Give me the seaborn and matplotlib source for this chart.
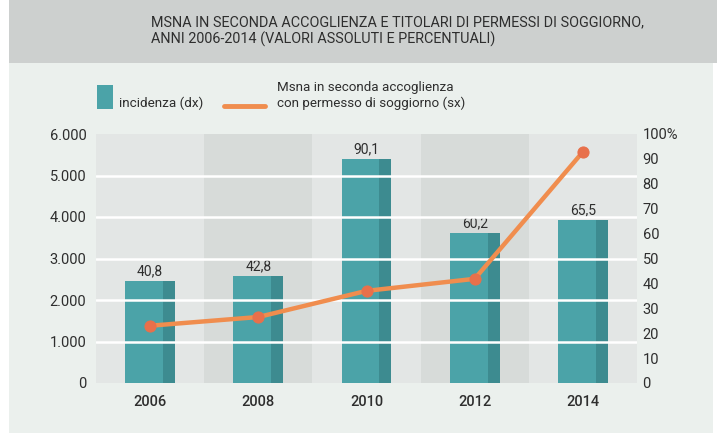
import numpy as np
import matplotlib
matplotlib.use('Agg')
import matplotlib.pyplot as plt
from matplotlib.patches import Rectangle
from matplotlib.lines import Line2D
from matplotlib.ticker import FuncFormatter
import seaborn as sns

# Data
years = ['2006', '2008', '2010', '2012', '2014']
incidenza = [40.8, 42.8, 90.1, 60.2, 65.5]          # bars, right axis (%)
msna_permesso = [1380, 1590, 2220, 2510, 5570]      # line, left axis
left_ticks = [0, 1000, 2000, 3000, 4000, 5000, 6000]
right_ticks = [0, 10, 20, 30, 40, 50, 60, 70, 80, 90, 100]

title_lines = ['MSNA IN SECONDA ACCOGLIENZA E TITOLARI DI PERMESSI DI SOGGIORNO,',
               'ANNI 2006-2014 (VALORI ASSOLUTI E PERCENTUALI)']

sns.set_style('white')
plt.rcParams['font.family'] = ['Roboto', 'DejaVu Sans']

teal = '#4ba3a8'
teal_dark = '#3d8b90'
orange = '#f08d4e'
orange_dot = '#e8704b'
txt = '#2e2e2e'

fig = plt.figure(figsize=(7.17, 4.33), dpi=100)
fig.patch.set_facecolor('white')

# background panels
fig.patches.append(Rectangle((9/717, 0), (713-9)/717, 1 - 63/433, transform=fig.transFigure,
                             facecolor='#ebf0ed', edgecolor='none', zorder=-10))
fig.patches.append(Rectangle((9/717, 1 - 63/433), 1, 63/433, transform=fig.transFigure,
                             facecolor='#cdd0cf', edgecolor='none', zorder=-10))

fig.text(151/717, 1 - 22/433, title_lines[0], fontsize=10.4, color=txt, va='center')
fig.text(151/717, 1 - 39/433, title_lines[1], fontsize=10.4, color=txt, va='center')

# legend
fig.patches.append(Rectangle((97/717, 1 - 109/433), 16/717, 24/433, transform=fig.transFigure,
                             facecolor=teal, edgecolor='none'))
fig.text(119/717, 1 - 103/433, 'incidenza (dx)', fontsize=9.7, color=txt, va='center')
fig.lines.append(Line2D([224/717, 265/717], [1 - 106/433, 1 - 106/433], transform=fig.transFigure,
                        color=orange, lw=3.5, solid_capstyle='round'))
fig.text(277/717, 1 - 88/433, 'Msna in seconda accoglienza', fontsize=9.6, color=txt, va='center')
fig.text(277/717, 1 - 103/433, 'con permesso di soggiorno (sx)', fontsize=9.6, color=txt, va='center')

ax = fig.add_axes([96/717, 1 - 383/433, (637-96)/717, (383-134)/433])
ax2 = ax.twinx()
ax.set_zorder(ax2.get_zorder() + 1)
ax.patch.set_visible(False)

x_pos = np.arange(len(years))

# alternating column bands
for i in x_pos:
    ax2.axvspan(i - 0.5, i + 0.5, color='#d7dbd9' if i % 2 else '#e3e6e5', lw=0, zorder=0)

# bars (right axis)
sns.barplot(x=years, y=incidenza, ax=ax2, color=teal, width=0.46, saturation=1,
            edgecolor='none', linewidth=0, zorder=2)
for p in list(ax2.patches):
    if p.get_height() > 0 and p.get_width() < 0.5:
        w = p.get_width() * 0.24
        ax2.add_patch(Rectangle((p.get_x() + p.get_width() - w, 0), w, p.get_height(),
                                facecolor=teal_dark, edgecolor='none', zorder=2.5))
ax2.bar_label(ax2.containers[0], labels=[f'{v:.1f}'.replace('.', ',') for v in incidenza],
              padding=2, fontsize=10, color=txt)

# white grid lines above the bars
for t in left_ticks[1:-1]:
    ax.axhline(t, color='white', lw=1.8, zorder=1)

# line (left axis)
sns.lineplot(x=x_pos, y=msna_permesso, ax=ax, color=orange, lw=3.2, marker='o', markersize=8,
             markerfacecolor=orange_dot, markeredgecolor=orange_dot, zorder=3)

ax.set_xlim(-0.5, len(years) - 0.5)
ax.set_ylim(left_ticks[0], left_ticks[-1])
ax2.set_ylim(right_ticks[0], right_ticks[-1])
ax.set_yticks(left_ticks)
ax.yaxis.set_major_formatter(FuncFormatter(lambda v, p: f'{int(v):,}'.replace(',', '.')))
ax2.set_yticks(right_ticks)
ax2.set_yticklabels([f'{t}%' if t == 100 else str(t) for t in right_ticks])
ax.set_xticks(x_pos)
ax.set_xticklabels(years, fontweight='medium')

ax.tick_params(axis='y', length=0, pad=7, labelsize=10.5, labelcolor=txt)
ax2.tick_params(axis='y', length=0, pad=4, labelsize=10.5, labelcolor=txt)
ax.tick_params(axis='x', length=0, pad=9, labelsize=10.5, labelcolor=txt, labelbottom=True)
ax.set_xlabel('')
ax.set_ylabel('')
ax2.set_xlabel('')
ax2.set_ylabel('')
for a in (ax, ax2):
    for s in a.spines.values():
        s.set_visible(False)

fig.savefig('out.png', dpi=100)
